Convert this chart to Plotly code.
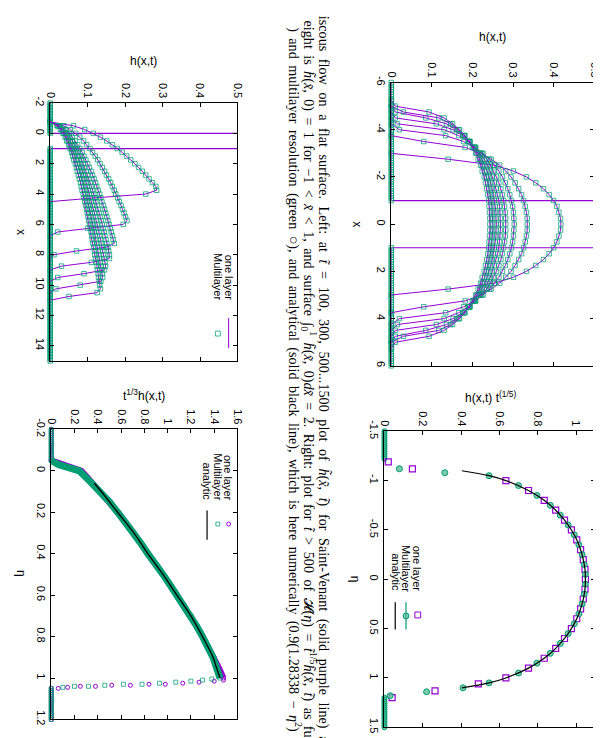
import numpy as np
import plotly.graph_objects as go

W, H = 601, 738
PURPLE = "#9400d3"
GREEN = "#009e73"
GREEN_MK = "rgba(0,158,115,0.75)"
TICKFONT = dict(family="Liberation Sans, Arial, sans-serif", size=11, color="black")
LABFONT = dict(family="Liberation Sans, Arial, sans-serif", size=12, color="black")
CAPFONT = dict(family="Liberation Serif, Times New Roman, serif", size=14.2, color="black")

# ---------------- Plot 1 (Saint-Venant, symmetric), half profiles x = 0, 0.25, ... ----------------
P1_XSTEP = 0.25
P1_T100 = [0.418, 0.417, 0.413, 0.408, 0.400, 0.389, 0.375, 0.356, 0.333, 0.301, 0.254, 0.140, 0.0]
P1_T300 = [0.335, 0.335, 0.333, 0.330, 0.326, 0.321, 0.314, 0.305, 0.295, 0.282, 0.267, 0.246, 0.220, 0.182, 0.080, 0.0]
P1_T500 = [0.303, 0.302, 0.301, 0.299, 0.296, 0.292, 0.287, 0.281, 0.274, 0.265, 0.254, 0.242, 0.226, 0.205, 0.178, 0.134, 0.020, 0.0]
P1_T700 = [0.282, 0.282, 0.281, 0.279, 0.277, 0.274, 0.270, 0.265, 0.259, 0.252, 0.244, 0.235, 0.223, 0.208, 0.190, 0.166, 0.130, 0.015, 0.0]
P1_T900 = [0.269, 0.269, 0.268, 0.267, 0.265, 0.262, 0.258, 0.254, 0.249, 0.244, 0.237, 0.229, 0.219, 0.207, 0.193, 0.176, 0.152, 0.111, 0.010, 0.0]
P1_T1100 = [0.259, 0.258, 0.258, 0.256, 0.254, 0.252, 0.249, 0.245, 0.241, 0.236, 0.230, 0.223, 0.215, 0.205, 0.194, 0.179, 0.161, 0.136, 0.085, 0.010, 0.0]
P1_T1300 = [0.250, 0.250, 0.249, 0.248, 0.246, 0.244, 0.241, 0.238, 0.234, 0.230, 0.224, 0.218, 0.211, 0.203, 0.193, 0.181, 0.166, 0.146, 0.117, 0.030, 0.0]
P1_T1500 = [0.243, 0.243, 0.242, 0.241, 0.240, 0.238, 0.235, 0.232, 0.229, 0.224, 0.220, 0.214, 0.208, 0.200, 0.191, 0.181, 0.168, 0.151, 0.130, 0.093, 0.010, 0.0]
P1_CURVES = [P1_T100, P1_T300, P1_T500, P1_T700, P1_T900, P1_T1100, P1_T1300, P1_T1500]
P1_INIT_X = [-6, -1, -1, 1, 1, 6]
P1_INIT_H = [0, 0, 1, 1, 0, 0]
P1_FLOOR = [(-6.0, -1.0), (1.0, 6.0)]
P1_VTICKS = [-6, -4, -2, 0, 2, 4, 6]
P1_VTEXT = ["-6", "-4", "-2", "0", "2", "4", "6"]
P1_HTICKS = [0, 0.1, 0.2, 0.3, 0.4, 0.5]
P1_HTEXT = ["0", "0.1", "0.2", "0.3", "0.4", "0.5"]

# ---------------- Plot 2 (half domain), profiles on x = -0.75, -0.5, ... ----------------
P2_X0 = -0.75
P2_XSTEP = 0.25
P2_A = [0.0, 0.062, 0.092, 0.115, 0.134, 0.151, 0.166, 0.179, 0.192, 0.204, 0.215, 0.226, 0.236, 0.246, 0.255,
        0.264, 0.273, 0.282, 0.284, 0.255, 0.120, 0.0]
P2_B = [0.0, 0.036, 0.054, 0.068, 0.079, 0.089, 0.097, 0.106, 0.113, 0.120, 0.127, 0.133, 0.139, 0.145, 0.150,
        0.156, 0.161, 0.166, 0.171, 0.175, 0.180, 0.184, 0.189, 0.193, 0.197, 0.201, 0.205, 0.195, 0.100, 0.020, 0.0]
P2_C = [0.0, 0.027, 0.041, 0.051, 0.059, 0.066, 0.073, 0.079, 0.085, 0.090, 0.095, 0.100, 0.104, 0.109, 0.113,
        0.117, 0.121, 0.124, 0.128, 0.132, 0.135, 0.138, 0.142, 0.145, 0.148, 0.151, 0.154, 0.157, 0.160, 0.163,
        0.166, 0.168, 0.171, 0.150, 0.070, 0.010, 0.0]
P2_D = [0.0, 0.024, 0.036, 0.045, 0.052, 0.059, 0.065, 0.070, 0.075, 0.080, 0.084, 0.088, 0.092, 0.096, 0.100,
        0.103, 0.107, 0.110, 0.113, 0.116, 0.119, 0.122, 0.125, 0.128, 0.131, 0.134, 0.136, 0.139, 0.141, 0.144,
        0.146, 0.149, 0.151, 0.154, 0.156, 0.158, 0.158, 0.110, 0.030, 0.0]
P2_E = [0.0, 0.022, 0.032, 0.040, 0.047, 0.053, 0.058, 0.063, 0.067, 0.072, 0.076, 0.079, 0.083, 0.086, 0.090,
        0.093, 0.096, 0.099, 0.102, 0.105, 0.107, 0.110, 0.113, 0.115, 0.118, 0.120, 0.123, 0.125, 0.127, 0.130,
        0.132, 0.134, 0.136, 0.138, 0.140, 0.142, 0.144, 0.146, 0.148, 0.145, 0.090, 0.020, 0.0]
P2_F = [0.0, 0.020, 0.030, 0.037, 0.043, 0.048, 0.053, 0.057, 0.061, 0.065, 0.069, 0.072, 0.076, 0.079, 0.082,
        0.085, 0.087, 0.090, 0.093, 0.095, 0.098, 0.100, 0.103, 0.105, 0.107, 0.109, 0.112, 0.114, 0.116, 0.118,
        0.120, 0.122, 0.124, 0.126, 0.128, 0.130, 0.131, 0.133, 0.135, 0.137, 0.139, 0.140, 0.135, 0.080, 0.015, 0.0]
P2_G = [0.0, 0.018, 0.027, 0.034, 0.040, 0.044, 0.049, 0.053, 0.057, 0.060, 0.063, 0.067, 0.070, 0.072, 0.075,
        0.078, 0.081, 0.083, 0.085, 0.088, 0.090, 0.092, 0.095, 0.097, 0.099, 0.101, 0.103, 0.105, 0.107, 0.109,
        0.111, 0.112, 0.114, 0.116, 0.118, 0.119, 0.121, 0.123, 0.125, 0.126, 0.128, 0.129, 0.131, 0.132, 0.134,
        0.125, 0.050, 0.0]
P2_CURVES = [P2_A, P2_B, P2_C, P2_D, P2_E, P2_F, P2_G]
P2_INIT_X = [-2, 0, 0, 1, 1, 15]
P2_INIT_H = [0, 0, 1, 1, 0, 0]
P2_FLOOR = [(-2.0, 0.0), (1.0, 15.0)]
P2_VTICKS = [-2, 0, 2, 4, 6, 8, 10, 12, 14]
P2_VTEXT = ["-2", "0", "2", "4", "6", "8", "10", "12", "14"]
P2_HTICKS = [0, 0.1, 0.2, 0.3, 0.4, 0.5]
P2_HTEXT = ["0", "0.1", "0.2", "0.3", "0.4", "0.5"]

# ---------------- Plot 3 (t^1/3 h vs eta) ----------------
P3_ETA = [-0.05, -0.04, -0.03, -0.02, -0.01, 0.0, 0.05, 0.10, 0.15, 0.20, 0.25, 0.30, 0.35, 0.40, 0.45, 0.50,
          0.55, 0.60, 0.65, 0.70, 0.75, 0.80, 0.85, 0.90, 0.95, 1.00]
P3_ML = [0.0, 0.02, 0.06, 0.12, 0.18, 0.24, 0.33, 0.42, 0.50, 0.57, 0.64, 0.71, 0.77, 0.83, 0.90, 0.96,
         1.02, 1.08, 1.14, 1.20, 1.25, 1.30, 1.35, 1.39, 1.42, 1.45]
P3_OL = [0.0, 0.05, 0.10, 0.16, 0.21, 0.26, 0.34, 0.42, 0.50, 0.57, 0.64, 0.71, 0.77, 0.83, 0.90, 0.96,
         1.02, 1.08, 1.14, 1.20, 1.25, 1.30, 1.35, 1.40, 1.44, 1.48]
P3_OL_FRONT_ETA = [1.01, 1.015, 1.02, 1.025, 1.03, 1.03, 1.035, 1.035, 1.04, 1.04, 1.045, 1.05]
P3_OL_FRONT_H = [1.48, 1.40, 1.27, 1.13, 0.98, 0.84, 0.68, 0.52, 0.38, 0.25, 0.14, 0.06]
P3_ML_FRONT_ETA = [1.005, 1.01, 1.015, 1.02, 1.025, 1.03, 1.03, 1.035, 1.04, 1.04, 1.045]
P3_ML_FRONT_H = [1.38, 1.30, 1.20, 1.07, 0.93, 0.78, 0.62, 0.46, 0.32, 0.20, 0.10]
P3_AN_ETA = [0.06, 0.10, 0.20, 0.30, 0.40, 0.50, 0.60, 0.70, 0.80, 0.90, 0.95, 1.00]
P3_AN_H = [0.37, 0.43, 0.57, 0.71, 0.83, 0.96, 1.08, 1.20, 1.30, 1.39, 1.42, 1.45]
P3_FLOOR = [(-0.2, -0.05), (1.05, 1.2)]
P3_VTICKS = [-0.2, 0, 0.2, 0.4, 0.6, 0.8, 1.0, 1.2]
P3_VTEXT = ["-0.2", "0", "0.2", "0.4", "0.6", "0.8", "1", "1.2"]
P3_HTICKS = [0, 0.2, 0.4, 0.6, 0.8, 1.0, 1.2, 1.4, 1.6]
P3_HTEXT = ["0", "0.2", "0.4", "0.6", "0.8", "1", "1.2", "1.4", "1.6"]

# ---------------- Plot 4 (t^1/5 h vs eta) ----------------
P4_OL_ETA = [-1.0, -0.9, -0.8, -0.7, -0.6, -0.5, -0.4, -0.3, -0.2, -0.1, 0.0,
             0.1, 0.2, 0.3, 0.4, 0.5, 0.6, 0.7, 0.8, 0.9, 1.0, -1.12, -1.19, 1.06, 1.13, 1.2]
P4_OL_H = [0.634, 0.752, 0.834, 0.894, 0.940, 0.976, 1.004, 1.024, 1.038, 1.047, 1.049,
           1.047, 1.038, 1.024, 1.004, 0.976, 0.940, 0.894, 0.834, 0.752, 0.634, 0.146, 0.02, 0.49, 0.264, 0.04]
P4_ML_ETA = [-1.05, -0.95, -0.85, -0.75, -0.65, -0.55, -0.45, -0.35, -0.25, -0.15, -0.05,
             0.05, 0.15, 0.25, 0.35, 0.45, 0.55, 0.65, 0.75, 0.85, 0.95, 1.05, -1.08, -1.12, 1.10, 1.14, 1.18]
P4_ML_H = [0.546, 0.700, 0.796, 0.866, 0.918, 0.959, 0.991, 1.015, 1.032, 1.043, 1.049,
           1.049, 1.043, 1.032, 1.015, 0.991, 0.959, 0.918, 0.866, 0.796, 0.700, 0.546, 0.315, 0.078, 0.41, 0.22, 0.03]
P4_AN_ETA = [-1.1, -1.05, -1.0, -0.9, -0.8, -0.7, -0.6, -0.5, -0.4, -0.3, -0.2, -0.1, 0.0,
             0.1, 0.2, 0.3, 0.4, 0.5, 0.6, 0.7, 0.8, 0.9, 1.0, 1.05, 1.1]
P4_AN_H = [0.404, 0.546, 0.634, 0.752, 0.834, 0.894, 0.940, 0.976, 1.004, 1.024, 1.038, 1.047, 1.049,
           1.047, 1.038, 1.024, 1.004, 0.976, 0.940, 0.894, 0.834, 0.752, 0.634, 0.546, 0.404]
P4_FLOOR = [(-1.5, -1.22), (1.2, 1.5)]
P4_VTICKS = [-1.5, -1.0, -0.5, 0, 0.5, 1.0, 1.5]
P4_VTEXT = ["-1.5", "-1", "-0.5", "0", "0.5", "1", "1.5"]
P4_HTICKS = [0, 0.2, 0.4, 0.6, 0.8, 1.0]
P4_HTEXT = ["0", "0.2", "0.4", "0.6", "0.8", "1"]

CAPTION = [
    "iscous flow on a flat surface. Left: at <i>t\u0303</i> = 100, 300, 500...1500 plot of <i>h\u0303</i>(<i>x\u0303</i>, <i>t\u0303</i>) for Saint-Venant (solid purple line) a",
    "eight is <i>h\u0303</i>(<i>x\u0303</i>, 0) = 1 for \u22121 &lt; <i>x\u0303</i> &lt; 1, and surface \u222b<sub>0</sub><sup>1</sup> <i>h\u0303</i>(<i>x\u0303</i>, 0)<i>dx\u0303</i> = 2. Right: plot for <i>t\u0303</i> &gt; 500 of \U0001D4D7(<i>\u03b7</i>) = <i>t\u0303</i><sup>1/5</sup><i>h\u0303</i>(<i>x\u0303</i>, <i>t\u0303</i>) as fu",
    ") and multilayer resolution (green \u25cb), and analytical (solid black line), which is here numerically (0.9(1.28338 \u2212 <i>\u03b7</i><sup>2</sup>)",
]
CAPTION_GAP = [" \u2009\u200a", " \u2009", " \u2009"]

fig = go.Figure()


def px(x):
    return x / W


def py(y):
    return 1 - y / H


def floor_pts(ranges, step):
    out = []
    for a, b in ranges:
        out += list(np.round(np.arange(a, b + 1e-9, step), 4))
    return out


def add(trace, n):
    sfx = "" if n == 1 else str(n)
    trace.update(xaxis="x" + sfx, yaxis="y" + sfx)
    fig.add_trace(trace)


sq = dict(symbol="square-open", size=4.5, color=GREEN_MK, line=dict(width=1, color=GREEN_MK))

# ---- Plot 1 ----
add(go.Scatter(x=P1_INIT_H, y=P1_INIT_X, mode="lines", line=dict(color=PURPLE, width=1.2)), 1)
fl = floor_pts(P1_FLOOR, 0.1)
add(go.Scatter(x=[0] * len(fl), y=fl, mode="markers", marker=sq, cliponaxis=False), 1)
for vals in P1_CURVES:
    xh = [i * P1_XSTEP for i in range(len(vals))]
    xf = [-v for v in xh[:0:-1]] + xh
    hf = vals[:0:-1] + vals
    add(go.Scatter(x=hf, y=xf, mode="lines", line=dict(color=PURPLE, width=1)), 1)
    add(go.Scatter(x=hf, y=xf, mode="markers", marker=sq, cliponaxis=False), 1)

# ---- Plot 2 ----
add(go.Scatter(x=P2_INIT_H, y=P2_INIT_X, mode="lines", line=dict(color=PURPLE, width=1.2)), 2)
fl = floor_pts(P2_FLOOR, 0.1)
add(go.Scatter(x=[0] * len(fl), y=fl, mode="markers", marker=sq, cliponaxis=False), 2)
for vals in P2_CURVES:
    xs = [P2_X0 + i * P2_XSTEP for i in range(len(vals))]
    add(go.Scatter(x=vals, y=xs, mode="lines", line=dict(color=PURPLE, width=1)), 2)
    add(go.Scatter(x=vals, y=xs, mode="markers", marker=sq, cliponaxis=False), 2)

# ---- Plot 3 ----
oc = dict(symbol="circle-open", size=4, color=PURPLE, line=dict(width=1, color=PURPLE))
sq3 = dict(symbol="square-open", size=4, color=GREEN_MK, line=dict(width=1, color=GREEN_MK))
fl = floor_pts(P3_FLOOR, 0.01)
add(go.Scatter(x=[0] * len(fl), y=fl, mode="markers", marker=oc, cliponaxis=False), 3)
add(go.Scatter(x=[0] * len(fl), y=fl, mode="markers", marker=sq3, cliponaxis=False), 3)
add(go.Scatter(x=P3_OL, y=P3_ETA, mode="lines+markers", line=dict(color=PURPLE, width=6),
               marker=oc, cliponaxis=False), 3)
add(go.Scatter(x=P3_OL_FRONT_H, y=P3_OL_FRONT_ETA, mode="markers", marker=oc, cliponaxis=False), 3)
add(go.Scatter(x=P3_ML, y=P3_ETA, mode="lines+markers", line=dict(color=GREEN, width=7),
               marker=sq3, cliponaxis=False), 3)
add(go.Scatter(x=P3_ML_FRONT_H, y=P3_ML_FRONT_ETA, mode="markers", marker=sq3, cliponaxis=False), 3)
add(go.Scatter(x=P3_AN_H, y=P3_AN_ETA, mode="lines", line=dict(color="black", width=1.3, shape="spline")), 3)

# ---- Plot 4 ----
sq4 = dict(symbol="square-open", size=6, color=PURPLE, line=dict(width=1.2, color=PURPLE))
gc4 = dict(symbol="circle", size=6, color="rgba(90,190,150,0.8)", line=dict(width=1, color=GREEN))
fl = floor_pts(P4_FLOOR, 0.02)
add(go.Scatter(x=[0] * len(fl), y=fl, mode="markers", marker=dict(gc4, size=5), cliponaxis=False), 4)
add(go.Scatter(x=P4_OL_H, y=P4_OL_ETA, mode="markers", marker=sq4, cliponaxis=False), 4)
add(go.Scatter(x=P4_ML_H, y=P4_ML_ETA, mode="markers", marker=gc4, cliponaxis=False), 4)
add(go.Scatter(x=P4_AN_H, y=P4_AN_ETA, mode="lines", line=dict(color="black", width=1.2, shape="spline")), 4)

# ---- axes ----
LAYOUT = [
    (1, (385, 592), (65, 355), [0, 0.5], P1_HTICKS, P1_HTEXT, [6, -6], P1_VTICKS, P1_VTEXT),
    (2, (37, 228), (86, 350), [0, 0.5], P2_HTICKS, P2_HTEXT, [15, -2], P2_VTICKS, P2_VTEXT),
    (3, (38, 228), (420, 717), [0, 1.6], P3_HTICKS, P3_HTEXT, [1.2, -0.2], P3_VTICKS, P3_VTEXT),
    (4, (378, 593), (422, 725), [0, 1.1], P4_HTICKS, P4_HTEXT, [1.5, -1.5], P4_VTICKS, P4_VTEXT),
]
lay = {}
for n, xd, yd, hr, ht, htx, vr, vt, vtx in LAYOUT:
    sfx = "" if n == 1 else str(n)
    common = dict(showline=True, linecolor="black", linewidth=1, mirror="allticks", ticks="inside",
                  ticklen=4, tickcolor="black", showgrid=False, zeroline=False, tickfont=TICKFONT,
                  tickangle=90)
    lay["xaxis" + sfx] = dict(common, domain=[px(xd[0]), px(xd[1])], range=hr, side="top",
                              tickmode="array", tickvals=ht, ticktext=htx, anchor="y" + sfx)
    lay["yaxis" + sfx] = dict(common, domain=[py(yd[1]), py(yd[0])], range=vr, side="left",
                              tickmode="array", tickvals=vt, ticktext=vtx, anchor="x" + sfx)

ann = []


def text(x, y, s, angle=0, font=LABFONT, xa="center", ya="middle"):
    ann.append(dict(x=px(x), y=py(y), xref="paper", yref="paper", text=s, showarrow=False,
                    textangle=angle, font=font, xanchor=xa, yanchor=ya))


# axis titles
text(488, 18, "h(x,t)")
text(350, 210, "x", 90)
text(132, 43, "h(x,t)")
text(7, 218, "x", 90)
text(133, 385, "t<sup>1/3</sup>h(x,t)")
text(7, 568, "\u03b7", 90)
text(486, 387, "h(x,t) t<sup>(1/5)</sup>")
text(348, 573, "\u03b7", 90)

# legends
LEGF = dict(family="Liberation Sans, Arial, sans-serif", size=11, color="black")
text(219, 290, "one layer", 90, LEGF, ya="bottom")
text(208, 290, "Multilayer", 90, LEGF, ya="bottom")
text(219, 495, "one layer", 90, LEGF, ya="bottom")
text(208, 495, "Multilayer", 90, LEGF, ya="bottom")
text(197, 495, "analytic", 90, LEGF, ya="bottom")
text(411, 588, "one layer", 90, LEGF, ya="bottom")
text(400, 588, "Multilayer", 90, LEGF, ya="bottom")
text(389, 588, "analytic", 90, LEGF, ya="bottom")

# caption (justified look: widened word spacing)
for xc, s, gap in zip([316, 301, 286], CAPTION, CAPTION_GAP):
    text(xc, 369, s.replace(" ", gap), 90, CAPFONT)

shapes = []


def seg(x0, y0, x1, y1, color, w=1):
    shapes.append(dict(type="line", xref="paper", yref="paper", x0=px(x0), y0=py(y0), x1=px(x1), y1=py(y1),
                       line=dict(color=color, width=w)))


def box(xc, yc, r, kind, color, fill="rgba(0,0,0,0)"):
    shapes.append(dict(type=kind, xref="paper", yref="paper", x0=px(xc - r), x1=px(xc + r),
                       y0=py(yc + r), y1=py(yc - r), line=dict(color=color, width=1), fillcolor=fill))


seg(219, 306, 219, 337, PURPLE)
box(208, 322, 2.5, "rect", GREEN_MK)
box(219, 517, 2, "circle", PURPLE)
box(208, 517, 2, "rect", GREEN_MK)
seg(197, 503, 197, 533, "black", 1.2)
box(412, 610, 3, "rect", PURPLE)
seg(400, 597, 400, 625, GREEN, 1.2)
box(400, 611, 3, "circle", GREEN, "rgba(90,190,150,0.8)")
seg(389, 597, 389, 625, "black", 1.2)

fig.update_layout(width=W, height=H, margin=dict(l=0, r=0, t=0, b=0), paper_bgcolor="white",
                  plot_bgcolor="white", showlegend=False, annotations=ann, shapes=shapes, **lay)
fig.write_html("out.html")
